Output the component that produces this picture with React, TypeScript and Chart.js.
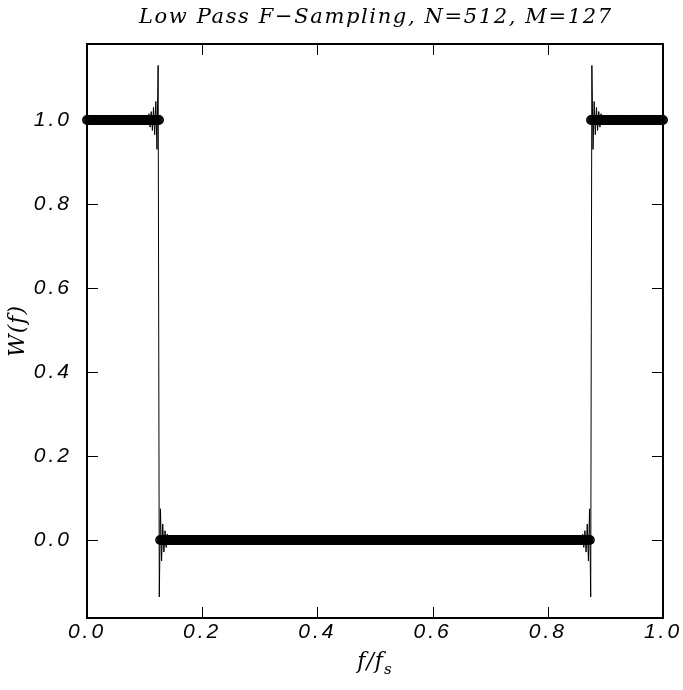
import React, { useEffect, useRef } from "react";
import { Chart, registerables } from "chart.js";

Chart.register(...registerables);

// ---- text ----
const TITLE = "Low Pass F\u2212Sampling, N=512, M=127";
const X_TITLE = "f/f";
const X_TITLE_SUB = "s";
const Y_TITLE = "W(f)";

// ---- frequency samples (N=512 from the title), as runs of equal value ----
const N_SAMPLES = 512;
const sampleRunValues = [1, 0, 1];
const sampleRunCounts = [65, 383, 65];

// ---- interpolated response W(f) ----
const responseF = [
  0.0, 0.0995, 0.1015, 0.1035, 0.1055, 0.1075, 0.1095, 0.1115, 0.1135, 0.1155,
  0.1175, 0.1195, 0.1215, 0.1235, 0.1255, 0.1275, 0.1295, 0.1315, 0.1335,
  0.1355, 0.1375, 0.1395, 0.1415, 0.1435, 0.1455, 0.1475,
  0.8525, 0.8545, 0.8565, 0.8585, 0.8605, 0.8625, 0.8645, 0.8665, 0.8685,
  0.8705, 0.8725, 0.8745, 0.8765, 0.8785, 0.8805, 0.8825, 0.8845, 0.8865,
  0.8885, 0.8905, 0.8925, 0.8945, 0.8965, 0.8985, 0.9005, 1.0,
];
const responseW = [
  1.0, 1.0, 0.991, 1.012, 0.988, 1.015, 0.983, 1.02, 0.975, 1.03,
  0.965, 1.044, 0.93, 1.13, -0.136, 0.074, -0.05, 0.038, -0.029,
  0.022, -0.018, 0.014, -0.011, 0.009, -0.007, 0.0,
  0.0, -0.007, 0.009, -0.011, 0.014, -0.018, 0.022, -0.029, 0.038,
  -0.05, 0.074, -0.136, 1.13, 0.93, 1.044, 0.965, 1.03, 0.975,
  1.02, 0.983, 1.015, 0.988, 1.012, 0.991, 1.0, 1.0,
];

// ---- axes ----
const xTickValues = [0, 0.2, 0.4, 0.6, 0.8, 1.0];
const yTickValues = [0, 0.2, 0.4, 0.6, 0.8, 1.0];
const X_MIN = 0;
const X_MAX = 1;
const Y_MIN = -0.186;
const Y_MAX = 1.181;

function buildSamples() {
  const pts: { x: number; y: number }[] = [];
  let k = 0;
  sampleRunValues.forEach((v, i) => {
    for (let j = 0; j < sampleRunCounts[i]; j++) {
      pts.push({ x: k / N_SAMPLES, y: v });
      k++;
    }
  });
  return pts;
}

const SERIF_FONT = "italic 22px 'DejaVu Serif'";
const SUB_FONT = "italic 15px 'DejaVu Serif'";
const TITLE_FONT = "italic 21px 'DejaVu Serif'";

const idlFrame = {
  id: "idlFrame",
  beforeDraw(chart: any) {
    chart.ctx.letterSpacing = "3px";
  },
  afterDraw(chart: any) {
    const ctx = chart.ctx as CanvasRenderingContext2D;
    const a = chart.chartArea;
    const sx = chart.scales.x;
    const sy = chart.scales.y;
    ctx.save();
    (ctx as any).letterSpacing = "0px";
    ctx.strokeStyle = "#000";
    ctx.lineWidth = 2;
    ctx.strokeRect(a.left, a.top, a.right - a.left, a.bottom - a.top);
    ctx.lineWidth = 1;
    const tl = 11;
    const seg = (x1: number, y1: number, x2: number, y2: number) => {
      ctx.beginPath();
      ctx.moveTo(x1, y1);
      ctx.lineTo(x2, y2);
      ctx.stroke();
    };
    xTickValues.forEach((v) => {
      const px = Math.round(sx.getPixelForValue(v)) + 0.5;
      seg(px, a.bottom, px, a.bottom - tl);
      seg(px, a.top, px, a.top + tl);
    });
    yTickValues.forEach((v) => {
      const py = Math.round(sy.getPixelForValue(v)) + 0.5;
      seg(a.left, py, a.left + tl, py);
      seg(a.right, py, a.right - tl, py);
    });

    ctx.fillStyle = "#000";
    // title
    ctx.font = TITLE_FONT;
    const w0 = ctx.measureText(TITLE).width;
    const spacing = Math.max(0, (472 - w0) / (TITLE.length - 1));
    (ctx as any).letterSpacing = spacing + "px";
    ctx.textAlign = "center";
    ctx.textBaseline = "middle";
    ctx.fillText(TITLE, (a.left + a.right) / 2 + spacing / 2, 18);
    (ctx as any).letterSpacing = "1px";

    // x title f/f_s
    const cx = (a.left + a.right) / 2;
    ctx.textAlign = "left";
    ctx.textBaseline = "alphabetic";
    ctx.font = SERIF_FONT;
    const mw = ctx.measureText(X_TITLE).width;
    ctx.font = SUB_FONT;
    const sw = ctx.measureText(X_TITLE_SUB).width;
    const start = cx - (mw + sw) / 2;
    ctx.font = SERIF_FONT;
    ctx.fillText(X_TITLE, start, 668);
    ctx.font = SUB_FONT;
    ctx.fillText(X_TITLE_SUB, start + mw, 674);

    // y title
    ctx.save();
    ctx.translate(18, (a.top + a.bottom) / 2);
    ctx.rotate(-Math.PI / 2);
    ctx.font = SERIF_FONT;
    ctx.textAlign = "center";
    ctx.textBaseline = "middle";
    ctx.fillText(Y_TITLE, 0, 0);
    ctx.restore();

    ctx.restore();
  },
};

export default function App() {
  const ref = useRef<HTMLCanvasElement | null>(null);
  useEffect(() => {
    document.body.style.margin = "0";
    const canvas = ref.current!;
    const chart = new Chart(canvas, {
      type: "scatter",
      data: {
        datasets: [
          {
            label: "samples",
            data: buildSamples(),
            showLine: false,
            pointStyle: "circle",
            pointRadius: 4.2,
            pointBorderWidth: 1.5,
            pointBackgroundColor: "rgba(0,0,0,0)",
            pointBorderColor: "#000",
            clip: false as any,
            order: 2,
          },
          {
            label: "response",
            data: responseF.map((f, i) => ({ x: f, y: responseW[i] })),
            showLine: true,
            borderColor: "#000",
            borderWidth: 1,
            pointRadius: 0,
            tension: 0,
            order: 1,
          },
        ],
      },
      options: {
        animation: false,
        responsive: false,
        devicePixelRatio: 1,
        layout: { padding: { top: 44, right: 20, left: 0, bottom: 0 } },
        plugins: {
          legend: { display: false },
          title: { display: false },
          tooltip: { enabled: false },
        },
        scales: {
          x: {
            type: "linear",
            min: X_MIN,
            max: X_MAX,
            grid: { display: false, drawTicks: false },
            border: { display: false },
            afterBuildTicks: (s: any) => {
              s.ticks = xTickValues.map((v) => ({ value: v }));
            },
            afterFit: (s: any) => {
              s.height = 72;
              s.paddingLeft = 0;
              s.paddingRight = 0;
            },
            ticks: {
              color: "#000",
              font: { family: "'Liberation Sans'", size: 21, style: "italic" },
              padding: 2,
              maxRotation: 0,
              autoSkip: false,
              callback: (v: any) => Number(v).toFixed(1),
            },
          },
          y: {
            type: "linear",
            min: Y_MIN,
            max: Y_MAX,
            grid: { display: false, drawTicks: false },
            border: { display: false },
            afterBuildTicks: (s: any) => {
              s.ticks = yTickValues.map((v) => ({ value: v }));
            },
            afterFit: (s: any) => {
              s.width = 87;
              s.paddingTop = 0;
              s.paddingBottom = 0;
            },
            ticks: {
              color: "#000",
              font: { family: "'Liberation Sans'", size: 21, style: "italic" },
              padding: 15,
              autoSkip: false,
              callback: (v: any) => Number(v).toFixed(1),
            },
          },
        },
      },
      plugins: [idlFrame],
    });
    return () => chart.destroy();
  }, []);
  return (
    <canvas
      ref={ref}
      width={683}
      height={690}
      style={{ display: "block", width: 683, height: 690 }}
    />
  );
}
